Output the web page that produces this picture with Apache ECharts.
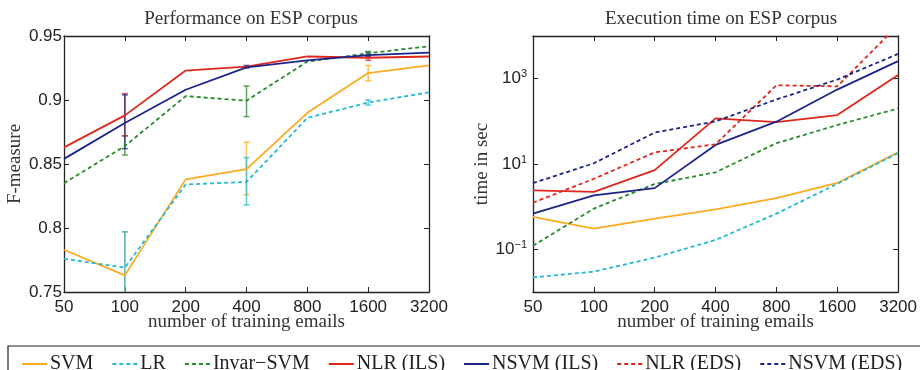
<!DOCTYPE html>
<html>
<head>
<meta charset="utf-8">
<script src="https://cdn.jsdelivr.net/npm/echarts@6/dist/echarts.min.js"></script>
<style>
  html, body { margin: 0; padding: 0; background: #fff; }
  #main { width: 920px; height: 370px; }
</style>
</head>
<body>
<div id="main"></div>
<script>
// training set sizes (log2 spaced)
var sizes = ['50', '100', '200', '400', '800', '1600', '3200'];
var names = ['SVM', 'LR', 'Invar\u2212SVM', 'NLR (ILS)', 'NSVM (ILS)', 'NLR (EDS)', 'NSVM (EDS)'];
var colors = ['#fcab1e', '#25b8d4', '#2a8a2e', '#e0261b', '#1b2489', '#e0261b', '#1b2489'];
var dashed = [false, true, true, false, false, true, true];

// F-measure (left panel), only the first five methods
var fSVM = [0.783, 0.763, 0.838, 0.846, 0.890, 0.921, 0.927];
var fLR = [0.776, 0.769, 0.834, 0.836, 0.886, 0.898, 0.906];
var fInvar = [0.835, 0.864, 0.903, 0.8995, 0.930, 0.9365, 0.942];
var fNLR = [0.863, 0.888, 0.923, 0.926, 0.934, 0.933, 0.934];
var fNSVM = [0.854, 0.882, 0.908, 0.9255, 0.931, 0.935, 0.937];

// error bars [low, high], null = none
var eSVM = [null, [0.735, 0.797], null, [0.826, 0.867], null, [0.915, 0.927], null];
var eLR = [null, [0.735, 0.797], null, [0.818, 0.855], null, [0.896, 0.900], null];
var eInvar = [null, [0.857, 0.872], null, [0.887, 0.911], null, [0.935, 0.938], null];
var eNLR = [null, [0.872, 0.905], null, null, null, [0.931, 0.935], null];
var eNSVM = [null, [0.862, 0.904], null, [0.925, 0.927], null, [0.934, 0.937], null];

// execution time in sec (right panel)
var tSVM = [0.575, 0.307, 0.526, 0.865, 1.59, 3.6, 18.7];
var tLR = [0.022, 0.030, 0.064, 0.166, 0.687, 3.43, 18];
var tInvar = [0.122, 0.9, 3.4, 6.4, 30.7, 82, 200];
var tNLR = [2.4, 2.23, 7.2, 117, 96, 140, 1220];
var tNSVM = [0.687, 1.84, 2.72, 28, 98, 555, 2580];
var tNLReds = [1.24, 4.5, 18.7, 29, 700, 660, 18000];
var tNSVMeds = [3.56, 10.4, 54.5, 100, 325, 950, 3810];

var fData = [fSVM, fLR, fInvar, fNLR, fNSVM];
var eData = [eSVM, eLR, eInvar, eNLR, eNSVM];
var tData = [tSVM, tLR, tInvar, tNLR, tNSVM, tNLReds, tNSVMeds];

var logTicks = [0.1, 10, 1000];

var tickFont = { fontFamily: 'Liberation Sans', fontSize: 17, color: '#222' };
var serif = 'Liberation Serif';
var nameFont = { fontFamily: serif, fontSize: 19, color: '#333' };
var frame = { show: true, lineStyle: { color: '#222', width: 1.3 } };
var tick = { show: true, inside: true, length: 5, lineStyle: { color: '#222', width: 1 } };

function lineStyleOf(i) {
  return { color: colors[i], width: 1.8, type: dashed[i] ? [4, 3] : 'solid' };
}

var series = [];
fData.forEach(function (d, i) {
  series.push({
    name: names[i], type: 'line', xAxisIndex: 0, yAxisIndex: 0,
    data: d, symbol: 'none', lineStyle: lineStyleOf(i), itemStyle: { color: colors[i] },
    animation: false
  });
});
eData.forEach(function (e, i) {
  var pts = [];
  e.forEach(function (v, k) { if (v) pts.push([k, v[0], v[1]]); });
  series.push({
    name: names[i], type: 'custom', xAxisIndex: 0, yAxisIndex: 0, clip: true,
    data: pts, animation: false, silent: true,
    renderItem: function (params, api) {
      var lo = api.coord([api.value(0), api.value(1)]);
      var hi = api.coord([api.value(0), api.value(2)]);
      var c = 3;
      var st = { stroke: colors[i], lineWidth: 1.5, opacity: 0.75 };
      return { type: 'group', children: [
        { type: 'line', shape: { x1: lo[0], y1: lo[1], x2: hi[0], y2: hi[1] }, style: st },
        { type: 'line', shape: { x1: lo[0] - c, y1: lo[1], x2: lo[0] + c, y2: lo[1] }, style: st },
        { type: 'line', shape: { x1: hi[0] - c, y1: hi[1], x2: hi[0] + c, y2: hi[1] }, style: st }
      ] };
    }
  });
});
tData.forEach(function (d, i) {
  series.push({
    name: names[i], type: 'line', xAxisIndex: 2, yAxisIndex: 2,
    data: d, symbol: 'none', lineStyle: lineStyleOf(i), itemStyle: { color: colors[i] },
    clip: true, animation: false
  });
});

function catAxis(grid, pos, labels) {
  return {
    type: 'category', gridIndex: grid, position: pos, data: sizes, boundaryGap: false,
    axisLine: frame, axisTick: tick, splitLine: { show: false },
    axisLabel: labels ? Object.assign({ margin: 7 }, tickFont) : { show: false },
    name: labels ? 'number of training emails' : '',
    nameLocation: 'middle', nameGap: 21, nameMoveOverlap: false,
    nameTextStyle: nameFont
  };
}

var chart = echarts.init(document.getElementById('main'), null, { renderer: 'canvas' });
chart.setOption({
  animation: false,
  title: [
    { text: 'Performance on ESP corpus', left: 246, top: 5, textAlign: 'center',
      textStyle: { fontFamily: serif, fontSize: 19, fontWeight: 'normal', color: '#333' } },
    { text: 'Execution time on ESP corpus', left: 716, top: 5, textAlign: 'center',
      textStyle: { fontFamily: serif, fontSize: 19, fontWeight: 'normal', color: '#333' } }
  ],
  grid: [
    { left: 64, top: 36, width: 365, height: 256 },
    { left: 533, top: 36, width: 366, height: 256 }
  ],
  legend: {
    data: names, left: 16, top: 349, itemWidth: 25, itemHeight: 12, itemGap: 18,
    itemStyle: { opacity: 0 },
    textStyle: { fontFamily: serif, fontSize: 20, color: '#222', padding: [0, 0, 0, -2] }
  },
  graphic: [
    { type: 'rect', shape: { x: 8, y: 346, width: 930, height: 40 },
      style: { fill: 'none', stroke: '#222', lineWidth: 1.2 }, silent: true }
  ],
  xAxis: [
    catAxis(0, 'bottom', true), catAxis(0, 'top', false),
    catAxis(1, 'bottom', true), catAxis(1, 'top', false)
  ],
  yAxis: [
    { type: 'value', gridIndex: 0, position: 'left', min: 0.75, max: 0.95, interval: 0.05,
      axisLine: frame, axisTick: tick, splitLine: { show: false },
      axisLabel: Object.assign({ margin: 2 }, tickFont),
      name: 'F-measure', nameLocation: 'middle', nameGap: 32,
      nameTextStyle: nameFont },
    { type: 'value', gridIndex: 0, position: 'right', min: 0.75, max: 0.95, interval: 0.05,
      axisLine: frame, axisTick: tick, splitLine: { show: false }, axisLabel: { show: false } },
    { type: 'log', logBase: 10, gridIndex: 1, position: 'left', min: 0.01, max: 10000,
      axisLine: frame, splitLine: { show: false },
      axisTick: Object.assign({ customValues: logTicks }, tick),
      axisLabel: {
        customValues: logTicks, margin: 6,
        formatter: function (v) {
          var e = Math.round(Math.log10(v));
          return '{b|10}{e|' + (e < 0 ? '\u2212' + (-e) : e) + '}';
        },
        rich: {
          b: { fontFamily: 'Liberation Sans', fontSize: 17, color: '#222' },
          e: { fontFamily: 'Liberation Sans', fontSize: 11, color: '#222', verticalAlign: 'top', padding: [0, 0, 9, 0] }
        }
      },
      name: 'time in sec', nameLocation: 'middle', nameGap: 29,
      nameTextStyle: nameFont },
    { type: 'log', logBase: 10, gridIndex: 1, position: 'right', min: 0.01, max: 10000,
      axisLine: frame, splitLine: { show: false },
      axisTick: Object.assign({ customValues: logTicks }, tick),
      axisLabel: { show: false } }
  ],
  series: series
});
</script>
</body>
</html>
